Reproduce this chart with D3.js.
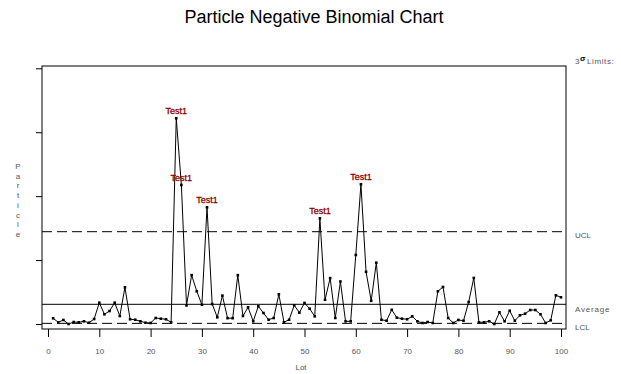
<!DOCTYPE html>
<html><head><meta charset="utf-8">
<script src="https://cdn.jsdelivr.net/npm/d3@7"></script>
<style>body{margin:0;background:#fff}svg{display:block}text{font-family:"Liberation Sans",Arial,sans-serif}</style>
</head><body><svg id="c" width="621" height="374"></svg>
<script>
const lots = d3.range(1, 101);
const particle = [0.89,0.27,0.63,0.0,0.31,0.27,0.42,0.2,0.78,3.33,
1.52,2.03,3.33,1.25,5.74,0.74,0.67,0.42,0.2,0.16,
0.94,0.83,0.74,0.27,32.19,21.75,2.9,7.64,5.13,3.02,
18.26,3.13,1.05,4.44,0.91,0.91,7.64,1.25,2.61,0.42,
2.77,1.72,0.67,0.94,4.65,0.27,0.67,2.93,1.77,3.29,
2.39,1.2,16.54,3.79,7.18,0.94,6.65,0.42,0.42,10.8,
21.86,8.17,3.63,9.59,0.66,0.52,2.22,0.99,0.83,0.74,
1.2,0.42,0.16,0.31,0.16,5.12,5.79,0.94,0.16,0.63,
0.52,3.44,7.2,0.27,0.27,0.42,0.0,1.83,0.42,2.08,
0.52,1.36,1.61,2.19,2.19,1.52,0.16,0.58,4.49,4.18];
const limits = {UCL: 14.44, Average: 3.08, LCL: 0.1};
const xTicks = [0,10,20,30,40,50,60,70,80,90,100];
const yTicks = [0,10,20,30,40];
const yLabel = "Particle";
const xLabel = "Lot";
const title = "Particle Negative Binomial Chart";
const flagLabel = "Test1";

const svg = d3.select("#c");
const L = 42, R = 566, T = 66, B = 329;
const x = d3.scaleLinear().domain([0,100]).range([48,561]);
const y = d3.scaleLinear().domain([0,40]).range([324,68.3]);
const grey = "#555";

svg.append("text").attr("x",314).attr("y",23).attr("text-anchor","middle")
  .attr("font-size",18).attr("fill","#000").text(title);

// frame
svg.append("rect").attr("x",L).attr("y",T).attr("width",R-L).attr("height",B-T)
  .attr("fill","none").attr("stroke","#000").attr("stroke-width",1);

// y axis (ticks only)
const ya = svg.append("g").attr("transform",`translate(${L},0)`)
  .call(d3.axisLeft(y).tickValues(yTicks).tickSize(6).tickFormat(""));
ya.select(".domain").remove();
ya.selectAll("line").attr("stroke","#000");

// x axis
const xa = svg.append("g").attr("transform",`translate(0,${B})`)
  .call(d3.axisBottom(x).tickValues(xTicks).tickSize(8).tickPadding(11));
xa.select(".domain").remove();
xa.selectAll("line").attr("stroke","#000");
xa.selectAll("text").attr("font-size",8).attr("fill",grey)
  .attr("font-family","Liberation Sans, Arial, sans-serif");

// labels
const yl = svg.append("text").attr("x",18).attr("y",169).attr("text-anchor","middle")
  .attr("font-size",8).attr("fill",grey);
yl.selectAll("tspan").data(yLabel.split("")).join("tspan")
  .attr("x",18).attr("dy",(d,i)=> i===0?0:9.7).text(d=>d);
svg.append("text").attr("x",301).attr("y",370).attr("text-anchor","middle")
  .attr("font-size",8).attr("fill",grey).text(xLabel);

// control lines
svg.append("line").attr("x1",L).attr("x2",R).attr("y1",y(limits.UCL)).attr("y2",y(limits.UCL))
  .attr("stroke","#000").attr("stroke-dasharray","10,5");
svg.append("line").attr("x1",L).attr("x2",R).attr("y1",y(limits.Average)).attr("y2",y(limits.Average))
  .attr("stroke","#000");
svg.append("line").attr("x1",L).attr("x2",R).attr("y1",y(limits.LCL)).attr("y2",y(limits.LCL))
  .attr("stroke","#000").attr("stroke-dasharray","10,5");

// right labels
svg.append("text").attr("x",575).attr("y",64).attr("font-size",8).attr("fill",grey).text("3");
svg.append("text").attr("x",580).attr("y",61).attr("font-size",8).attr("font-weight","bold").attr("fill","#000").text("σ");
svg.append("text").attr("x",587).attr("y",64).attr("font-size",8).attr("letter-spacing",0.6).attr("fill",grey).text("Limits:");
svg.append("text").attr("x",575).attr("y",238).attr("font-size",8).attr("fill",grey).text("UCL");
svg.append("text").attr("x",575).attr("y",312).attr("font-size",8).attr("letter-spacing",0.8).attr("fill",grey).text("Average");
svg.append("text").attr("x",575).attr("y",330).attr("font-size",8).attr("fill",grey).text("LCL");

// data
const data = lots.map((l,i)=>({lot:l, v:particle[i]}));
svg.append("path").datum(data)
  .attr("d", d3.line().x(d=>x(d.lot)).y(d=>y(d.v)))
  .attr("fill","none").attr("stroke","#000").attr("stroke-width",1);
svg.selectAll("rect.pt").data(data).join("rect").attr("class","pt")
  .attr("x",d=>x(d.lot)-1.3).attr("y",d=>y(d.v)-1.3).attr("width",2.6).attr("height",2.6).attr("fill","#000");

svg.selectAll("text.flag").data(data.filter(d=>d.v>limits.UCL)).join("text").attr("class","flag")
  .attr("x",d=>x(d.lot)).attr("y",d=>y(d.v)-4).attr("text-anchor","middle")
  .attr("font-size",9).attr("fill","#8b0000").attr("stroke","#8b0000").attr("stroke-width",0.3)
  .text(flagLabel);
</script></body></html>
